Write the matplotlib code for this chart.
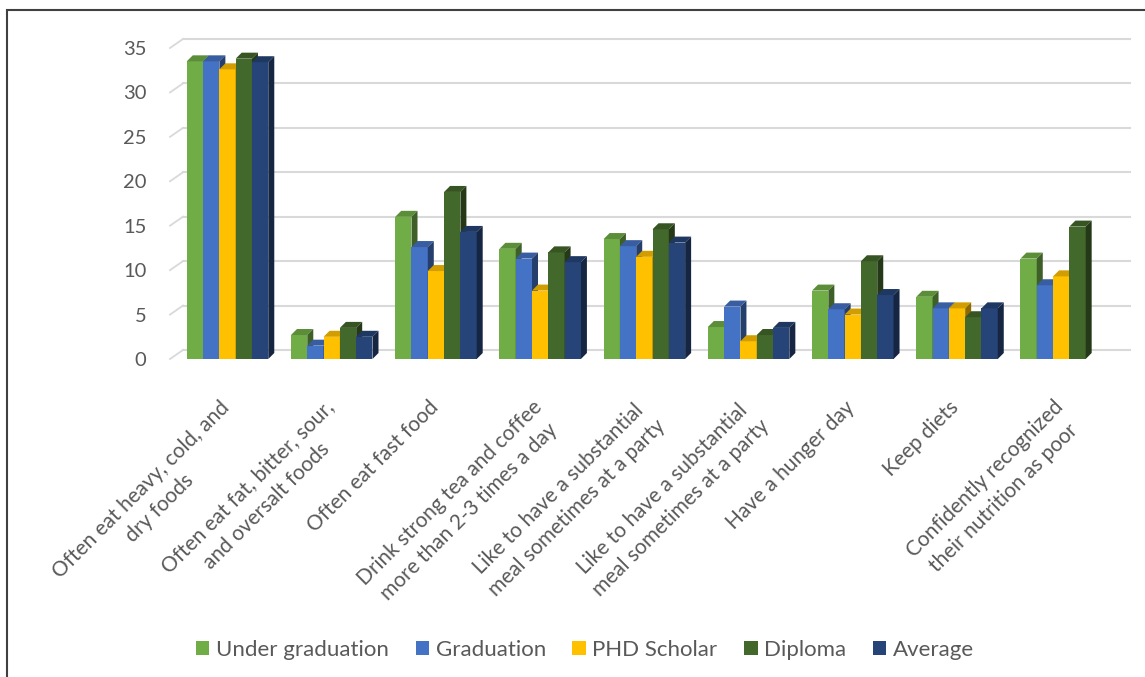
import numpy as np
import matplotlib.pyplot as plt
from matplotlib.patches import Polygon, Rectangle, Patch
from matplotlib.colors import to_rgb

plt.rcParams['font.family'] = ['Lato', 'DejaVu Sans']

categories = [
    "Often eat heavy, cold, and\ndry foods",
    "Often eat fat, bitter, sour,\nand oversalt foods",
    "Often eat fast food",
    "Drink strong tea and coffee\nmore than 2-3 times a day",
    "Like to have a substantial\nmeal sometimes at a party",
    "Like to have a substantial\nmeal sometimes at a party",
    "Have a hunger day",
    "Keep diets",
    "Confidently recognized\ntheir nutrition as poor",
]

series_names = ["Under graduation", "Graduation", "PHD Scholar", "Diploma", "Average"]
under_graduation = [33.5, 2.7, 16.0, 12.4, 13.5, 3.6, 7.7, 7.0, 11.3]
graduation = [33.5, 1.5, 12.6, 11.3, 12.7, 5.9, 5.6, 5.7, 8.3]
phd_scholar = [32.6, 2.5, 9.9, 7.7, 11.5, 2.0, 5.0, 5.7, 9.3]
diploma = [33.8, 3.5, 18.8, 12.0, 14.6, 2.7, 11.0, 4.7, 14.9]
average = [33.4, 2.5, 14.3, 10.9, 13.1, 3.5, 7.2, 5.7, np.nan]

colors = ["#70AD47", "#4472C4", "#FFC000", "#43682B", "#264478"]
text_col = "#595959"


def shade(c, f):
    r, g, b = to_rgb(c)
    return (r * f, g * f, b * f)


W, H = 1145, 677
fig = plt.figure(figsize=(W / 100, H / 100), dpi=100)

# plot area in pixels: left 170, right 1130, value 0 at y=359, value 35 at y=48
ax = fig.add_axes([170 / W, (H - 359) / H, 960 / W, 311 / H])
xmin, xmax = -0.552, 8.66
ax.set_xlim(xmin, xmax)
ax.set_ylim(0, 35)
for s in ax.spines.values():
    s.set_visible(False)

sx = 960 / (xmax - xmin)   # px per category
sy = 311 / 35              # px per unit

# back wall gridlines with the short diagonal connectors on the left
gx, gy = 13 / sx, 9 / sy
for v in range(0, 36, 5):
    ax.plot([xmin, xmin + gx], [v, v + gy], color="#d9d9d9", lw=1.3,
            clip_on=False, zorder=1)
    ax.plot([xmin + gx, xmax], [v + gy, v + gy], color="#d9d9d9", lw=1.5,
            clip_on=False, zorder=1)

# 3d-looking columns: front face + top face + side face
bw = 16.3 / sx
dx, dy = 6 / sx, 6 / sy
x = np.arange(len(categories))
all_series = [under_graduation, graduation, phd_scholar, diploma, average]
for k, (vals, col) in enumerate(zip(all_series, colors)):
    xs = x + (k - 2) * bw
    z = 3 + k
    ax.bar(xs, vals, width=bw, color=col, edgecolor="none", zorder=z)
    for xc, h in zip(xs, vals):
        if np.isnan(h):
            continue
        x0, x1 = xc - bw / 2, xc + bw / 2
        top = Polygon([(x0, h), (x1, h), (x1 + dx, h + dy), (x0 + dx, h + dy)],
                      closed=True, facecolor=shade(col, 0.82), edgecolor="none",
                      zorder=z, clip_on=False)
        side = Polygon([(x1, 0), (x1 + dx, dy), (x1 + dx, h + dy), (x1, h)],
                       closed=True, facecolor=shade(col, 0.55), edgecolor="none",
                       zorder=z, clip_on=False)
        ax.add_patch(top)
        ax.add_patch(side)

ax.set_xticks([])
ax.set_yticks(range(0, 36, 5))
ax.tick_params(axis="y", length=0, pad=17, labelcolor=text_col, labelsize=14.5)

# rotated category labels
label_y = -38 / sy
for i, lab in enumerate(categories):
    ax.text(i - 8 / sx, label_y, lab, ha="right", va="top", rotation=45,
            rotation_mode="anchor", multialignment="center", linespacing=1.4,
            color=text_col, fontsize=15, clip_on=False)

handles = [Patch(facecolor=c, edgecolor="none") for c in colors]
fig.legend(handles, series_names, loc="center", bbox_to_anchor=(0.511, 1 - 650 / H),
           ncol=5, frameon=False, fontsize=16, labelcolor=text_col,
           handlelength=0.6, handleheight=0.6, handletextpad=0.3,
           columnspacing=1.2)

# chart border (only left and top edges fall inside the image)
fig.add_artist(Rectangle((7 / W, -0.1), 1.2, 1.1 - 10 / H,
                         transform=fig.transFigure, fill=False,
                         edgecolor="#404040", lw=1.5))

fig.savefig("out.png", dpi=100)
